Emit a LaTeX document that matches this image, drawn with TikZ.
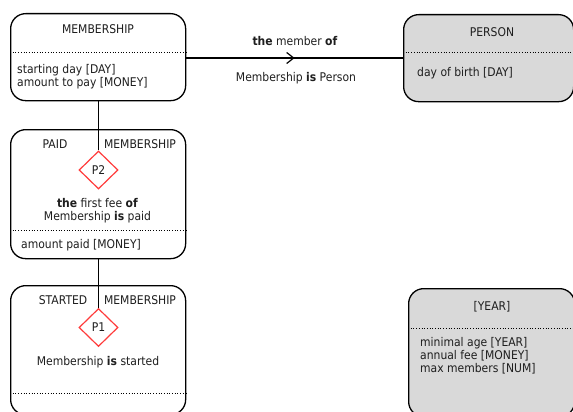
\documentclass[tikz,border=0pt]{standalone}
\usepackage{fontspec}
\setmainfont{DejaVu Sans}[FakeStretch=0.9]
\usetikzlibrary{shapes.geometric,arrows.meta,decorations.markings}
\definecolor{ink}{HTML}{1E1E1E}
\definecolor{shade}{HTML}{D9D9D9}
\definecolor{prule}{HTML}{FF3B3B}
\tikzset{
  box/.style={draw=black, line width=1.3pt, rounded corners=15pt, inner sep=0pt, anchor=north west},
  entity/.style={box, fill=white},
  valuebox/.style={box, fill=shade},
  sep/.style={dotted, line width=0.7pt},
  txt/.style={inner sep=0pt, text=ink, font=\fontsize{12}{13}\selectfont},
  attrs/.style={txt, align=left, anchor=west},
  rule/.style={diamond, draw=prule, line width=1.2pt, fill=white, minimum width=39pt, minimum height=38pt, inner sep=0pt, text=ink, font=\fontsize{12}{13}\selectfont},
  link/.style={line width=1.3pt},
  midarrow/.style={postaction={decorate}, decoration={markings, mark=at position 0.5 with {\arrow{Straight Barb[length=7pt,width=11pt,line width=1.2pt]}}}}
}
\begin{document}
\begin{tikzpicture}[x=1pt,y=-1pt]
\useasboundingbox (0,0) rectangle (573,412);
\begin{scope}
\clip (0,0) rectangle (573,412);

% MEMBERSHIP
\node[entity, minimum width=175pt, minimum height=87pt] (mem) at (10,13) {};
\draw[sep] (mem.west |- 0,52) -- (mem.east |- 0,52);
\node[txt] (memt) at (98,29) {MEMBERSHIP};
\node[attrs] (mema) at (17,76.5) {starting day [DAY]\\amount to pay [MONEY]};

% PERSON
\node[valuebox, minimum width=170pt, minimum height=87pt] (per) at (403,14) {};
\draw[sep] (per.west |- 0,52) -- (per.east |- 0,52);
\node[txt] (pert) at (492,32) {PERSON};
\node[attrs] (pera) at (417,73) {day of birth [DAY]};

% PAID MEMBERSHIP
\node[entity, minimum width=175pt, minimum height=129pt] (paid) at (10,129) {};
\draw[sep] (paid.west |- 0,230) -- (paid.east |- 0,230);
\node[txt] (paidl) at (55,144) {PAID};
\node[txt] (paidr) at (140,144) {MEMBERSHIP};
\node[rule] (p2) at (98.5,170) {P2};
\node[txt, align=center] (p2t) at (97.5,210.5) {\textbf{the} first fee \textbf{of}\\Membership \textbf{is} paid};
\node[attrs] (paida) at (21,245) {amount paid [MONEY]};

% STARTED MEMBERSHIP
\node[entity, minimum width=175pt, minimum height=129pt] (start) at (10,285) {};
\draw[sep] (start.west |- 0,393) -- (start.east |- 0,393);
\node[txt] (startl) at (63,300) {STARTED};
\node[txt] (startr) at (140,300) {MEMBERSHIP};
\node[rule] (p1) at (98.5,327.5) {P1};
\node[txt] (p1t) at (98,362) {Membership \textbf{is} started};

% YEAR
\node[valuebox, minimum width=166pt, minimum height=128pt] (year) at (408,288) {};
\draw[sep] (year.west |- 0,328) -- (year.east |- 0,328);
\node[txt] (yeart) at (492,307) {[YEAR]};
\node[attrs] (yeara) at (420,356) {minimal age [YEAR]\\annual fee [MONEY]\\max members [NUM]};

% connectors
\draw[link, midarrow] (mem.east |- 0,58) -- (per.west |- 0,58);
\node[txt] (fwd) at (295,41) {\textbf{the} member \textbf{of}};
\node[txt] (bwd) at (296,78) {Membership \textbf{is} Person};
\draw[link] (p2.north |- mem.south) -- (p2.north);
\draw[link] (p1.north |- paid.south) -- (p1.north);
\end{scope}
\end{tikzpicture}
\end{document}
